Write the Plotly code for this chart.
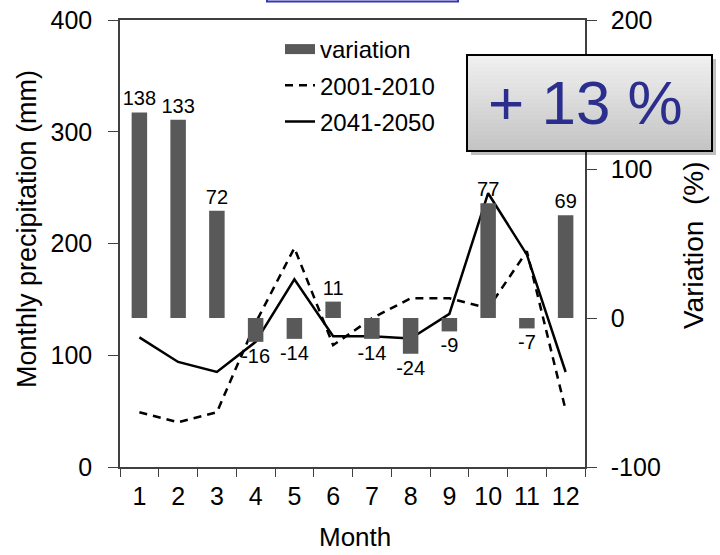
import plotly.graph_objects as go

months = [str(m) for m in range(1, 13)]
variation = [138, 133, 72, -16, -14, 11, -14, -24, -9, 77, -7, 69]
p_2001_2010 = [49, 40, 49, 129, 196, 109, 133, 151, 151, 142, 193, 51]
p_2041_2050 = [116, 94, 85, 112, 168, 117, 117, 115, 137, 245, 190, 85]
var_ticks = [-100, 0, 100, 200]
var_tick_labels = ["-100", "0", "100", "200"]

FONT = "Liberation Sans, Arial, sans-serif"
W, H = 720, 555
L, R, T, B = 120, 585, 20, 467


def px_x(px):
    return (px - L) / (R - L)


def px_y(py):
    return (B - py) / (B - T)


fig = go.Figure()

fig.add_trace(go.Bar(
    x=months, y=variation, yaxis="y2", name="variation",
    marker=dict(color="#595959", line=dict(width=0)),
    width=0.4, showlegend=False,
    text=[str(v) for v in variation], textposition="outside",
    textfont=dict(family=FONT, size=20, color="black"),
    constraintext="none", cliponaxis=False,
))
# legend proxy for the bars
fig.add_trace(go.Scatter(
    x=[None], y=[None], mode="lines", name="variation",
    line=dict(color="#595959", width=13), legendgroup="a",
))
fig.add_trace(go.Scatter(
    x=months, y=p_2001_2010, mode="lines", name="2001-2010",
    line=dict(color="black", width=2.5, dash="8px,6px"), legendgroup="b",
))
fig.add_trace(go.Scatter(
    x=months, y=p_2041_2050, mode="lines", name="2041-2050",
    line=dict(color="black", width=2.5), legendgroup="c",
))

shapes = []
# blue box peeking in at the very top
shapes.append(dict(type="rect", xref="paper", yref="paper",
                   x0=px_x(267), x1=px_x(458), y0=px_y(1.5), y1=px_y(-20),
                   line=dict(color="#3535b5", width=2), fillcolor="white", layer="above"))

# "+13 %" box: shadow, gradient, border
bx0, bx1, by0, by1 = 467, 712, 55, 151
shapes.append(dict(type="rect", xref="paper", yref="paper",
                   x0=px_x(bx0 + 4), x1=px_x(bx1 + 4), y0=px_y(by1 + 4), y1=px_y(by0 + 4),
                   line=dict(width=0), fillcolor="rgba(0,0,0,0.25)", layer="above"))
N = 24
c_top = (240, 240, 240)
c_bot = (196, 196, 196)
for i in range(N):
    t = i / (N - 1)
    c = tuple(int(round(c_top[k] + (c_bot[k] - c_top[k]) * t)) for k in range(3))
    ya = by0 + (by1 - by0) * i / N
    yb = by0 + (by1 - by0) * (i + 1) / N + 0.6
    shapes.append(dict(type="rect", xref="paper", yref="paper",
                       x0=px_x(bx0), x1=px_x(bx1), y0=px_y(min(yb, by1)), y1=px_y(ya),
                       line=dict(width=0), fillcolor="rgb(%d,%d,%d)" % c, layer="above"))
shapes.append(dict(type="rect", xref="paper", yref="paper",
                   x0=px_x(bx0), x1=px_x(bx1), y0=px_y(by1), y1=px_y(by0),
                   line=dict(color="black", width=2), fillcolor="rgba(0,0,0,0)", layer="above"))

annotations = [
    dict(x=px_x(585), y=px_y(102), xref="paper", yref="paper",
         text="+ 13 %", showarrow=False, xanchor="center", yanchor="middle",
         font=dict(family=FONT, size=62, color="#2B2E8C")),
    dict(x=px_x(27), y=px_y(229), xref="paper", yref="paper", textangle=-90,
         text="Monthly precipitation (mm)", showarrow=False,
         xanchor="center", yanchor="middle",
         font=dict(family=FONT, size=27, color="black")),
    dict(x=px_x(693), y=px_y(245), xref="paper", yref="paper", textangle=-90,
         text="Variation\u00a0\u00a0(%)", showarrow=False,
         xanchor="center", yanchor="middle",
         font=dict(family=FONT, size=28, color="black")),
    dict(x=px_x(355), y=px_y(537), xref="paper", yref="paper",
         text="Month", showarrow=False, xanchor="center", yanchor="middle",
         font=dict(family=FONT, size=26, color="black")),
]

axis_line = "#404040"
fig.update_layout(
    width=W, height=H,
    margin=dict(l=L, r=W - R, t=T, b=H - B, pad=0),
    paper_bgcolor="white", plot_bgcolor="white",
    font=dict(family=FONT, size=24, color="black"),
    bargap=0.6,
    xaxis=dict(
        type="category", showgrid=False, zeroline=False, automargin=False,
        showline=True, linecolor=axis_line, linewidth=1.5, mirror=True,
        ticks="outside", ticklen=8, tickcolor=axis_line, tickson="boundaries",
        tickfont=dict(family=FONT, size=25), ticklabelstandoff=6,
    ),
    yaxis=dict(
        range=[0, 400], dtick=100, showgrid=False, zeroline=False, automargin=False,
        showline=True, linecolor=axis_line, linewidth=1.5,
        ticks="outside", ticklen=10, tickcolor=axis_line,
        tickfont=dict(family=FONT, size=25), ticklabelstandoff=11,
    ),
    yaxis2=dict(
        range=[-100, 200], tickvals=var_ticks, ticktext=var_tick_labels,
        overlaying="y", side="right",
        showgrid=False, zeroline=False, automargin=False,
        showline=True, linecolor=axis_line, linewidth=1.5,
        ticks="outside", ticklen=10, tickcolor=axis_line,
        tickfont=dict(family=FONT, size=25), ticklabelstandoff=9,
    ),
    legend=dict(
        x=px_x(280), y=px_y(27), xanchor="left", yanchor="top",
        bgcolor="rgba(0,0,0,0)", font=dict(family=FONT, size=24),
        tracegroupgap=2, itemwidth=30,
    ),
    shapes=shapes,
    annotations=annotations,
)

fig.write_html("out.html")
